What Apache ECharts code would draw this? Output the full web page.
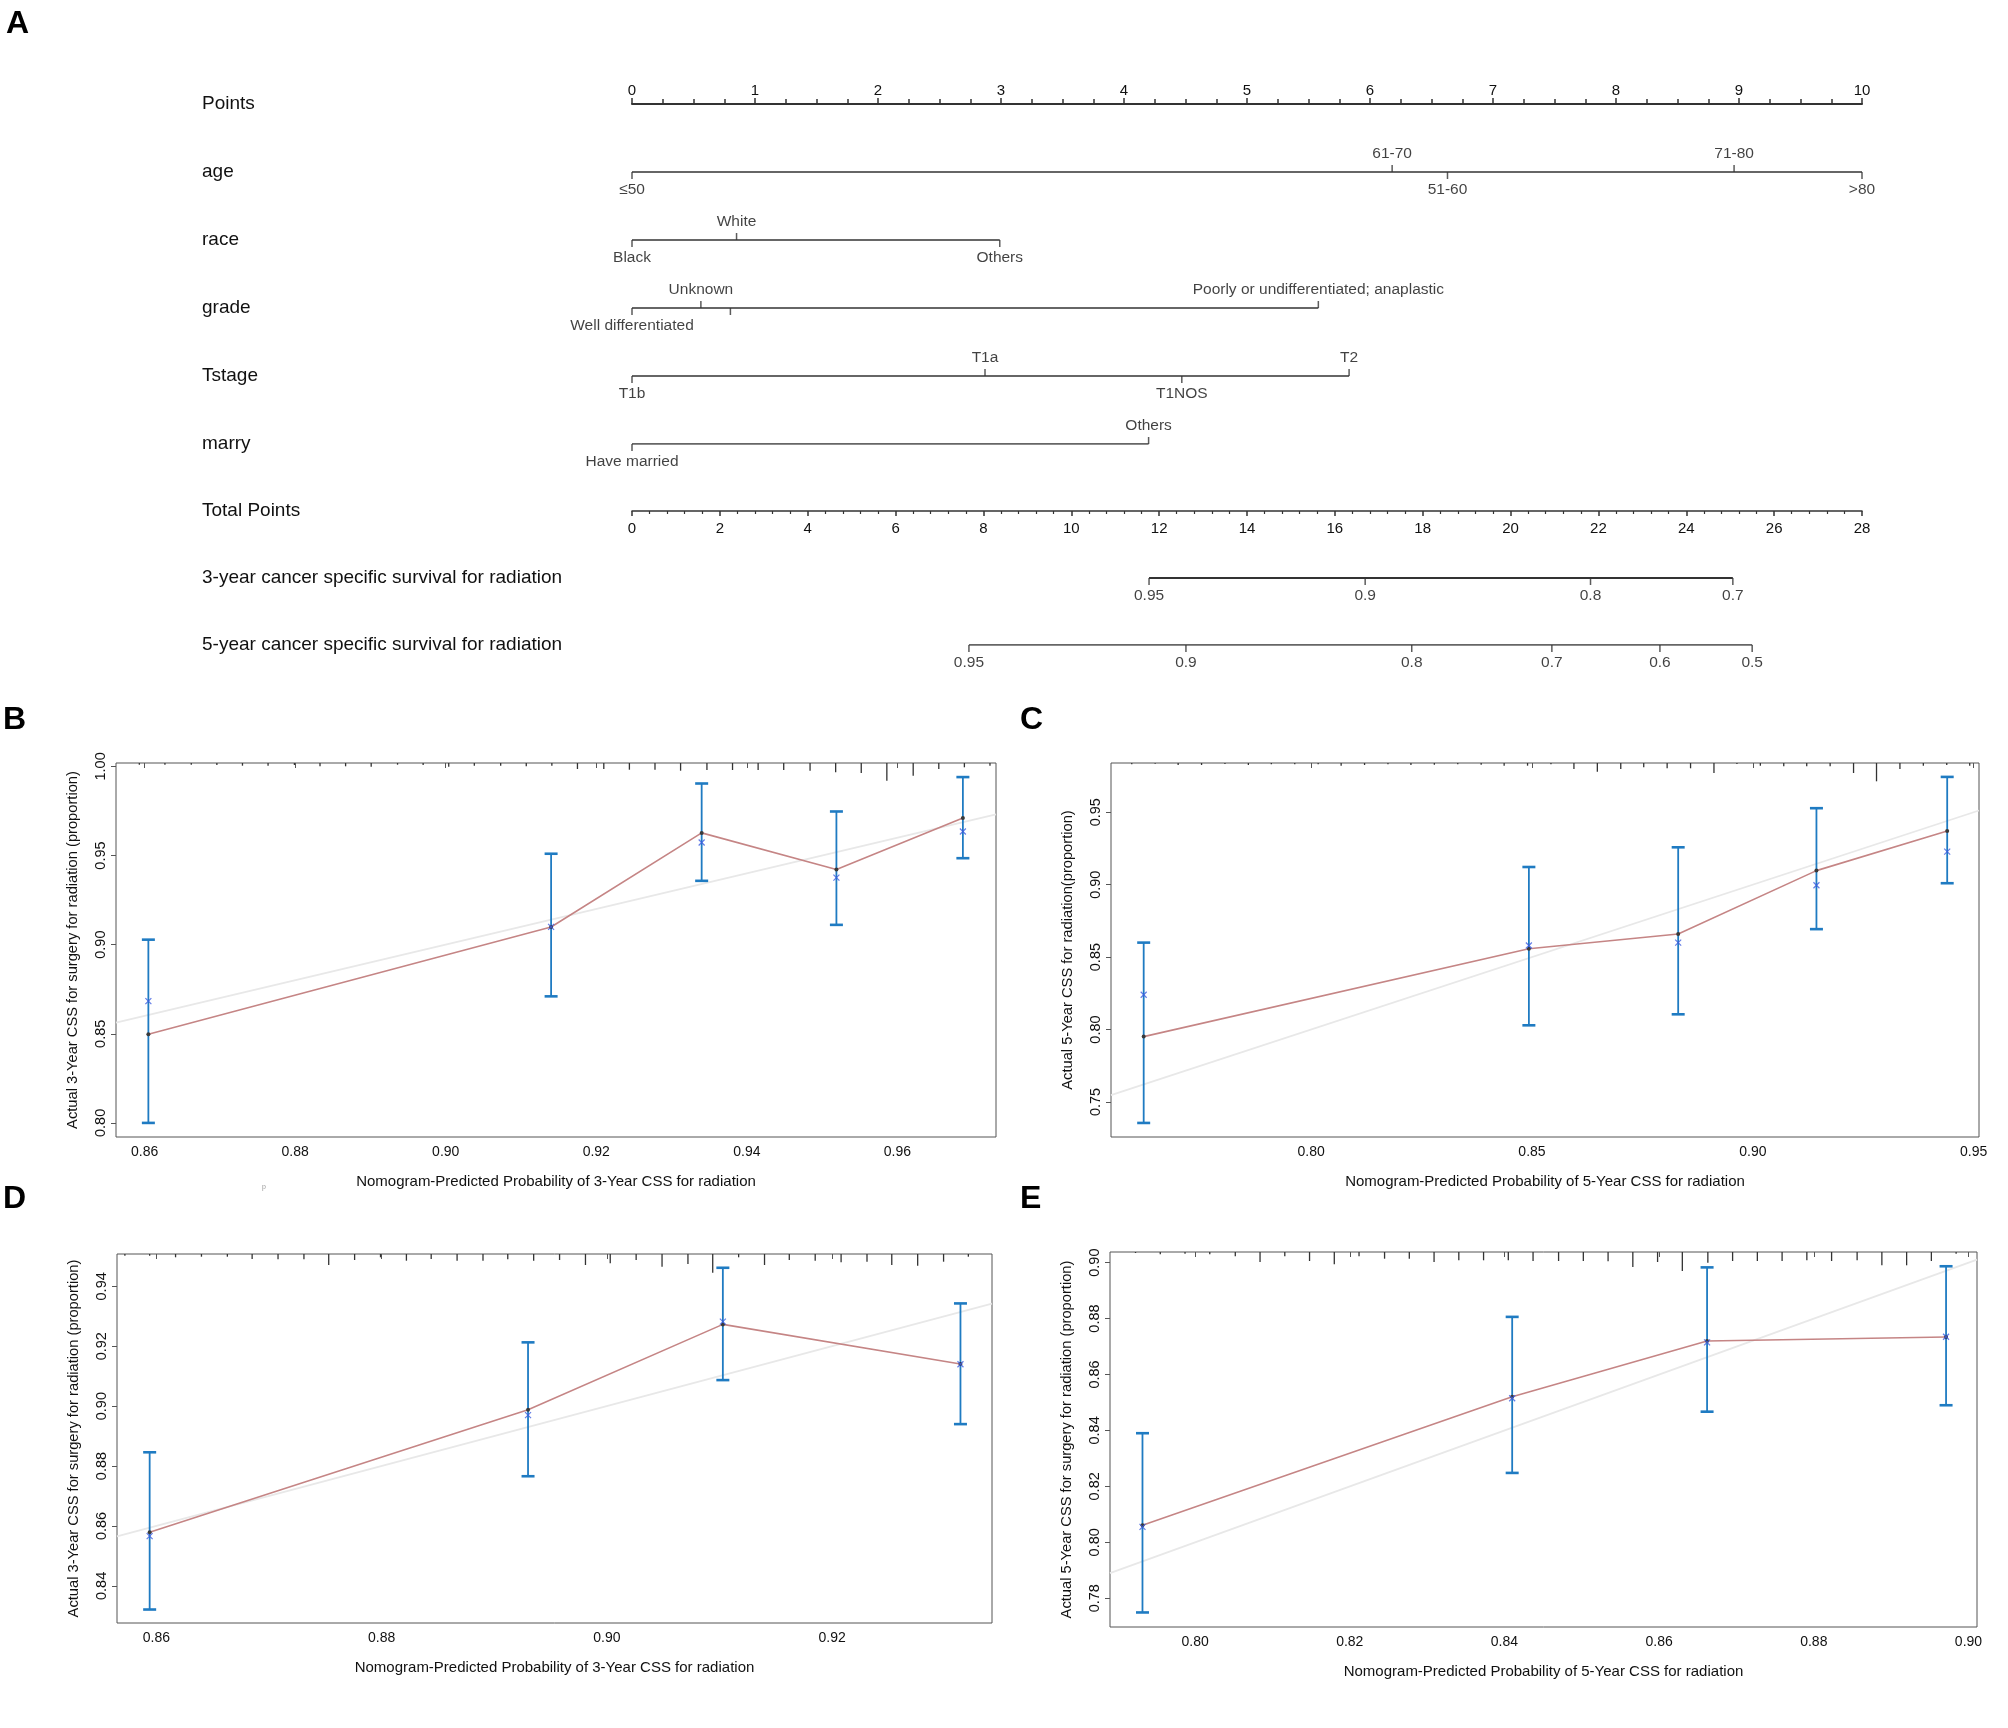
<!DOCTYPE html>
<html>
<head>
<meta charset="utf-8">
<title>Nomogram and calibration curves</title>
<script src="https://cdn.jsdelivr.net/npm/echarts@6/dist/echarts.min.js"></script>
<style>
  html, body { margin: 0; padding: 0; background: #fff; }
  #chart { width: 2008px; height: 1728px; }
</style>
</head>
<body>
<div id="chart"></div>
<script>
// ---------- nomogram (panel A) ----------
var topRows = ['Points', 'age', 'race', 'grade', 'Tstage', 'marry'];
var bottomRows = ['Total Points',
  '3-year cancer specific survival for radiation',
  '5-year cancer specific survival for radiation'];

var ageLevels = ['≤50', '61-70', '51-60', '71-80', '>80'];
var agePoints = [0, 6.18, 6.63, 8.96, 10];
var raceLevels = ['Black', 'White', 'Others'];
var racePoints = [0, 0.85, 2.99];
// third grade tick carries no label in the original figure
var gradeLevels = ['Well differentiated', 'Unknown', '', 'Poorly or undifferentiated; anaplastic'];
var gradePoints = [0, 0.56, 0.80, 5.58];
var tstageLevels = ['T1b', 'T1a', 'T1NOS', 'T2'];
var tstagePoints = [0, 2.87, 4.47, 5.83];
var marryLevels = ['Have married', 'Others'];
var marryPoints = [0, 4.20];

var css3Labels = ['0.95', '0.9', '0.8', '0.7'];
var css3Total = [11.77, 16.69, 21.82, 25.06];
var css5Labels = ['0.95', '0.9', '0.8', '0.7', '0.6', '0.5'];
var css5Total = [7.67, 12.61, 17.75, 20.94, 23.40, 25.50];

// ---------- calibration panels ----------
// B: 3-year, training
var bPred = [0.8605, 0.9140, 0.9340, 0.9519, 0.9687];
var bObs  = [0.8497, 0.9099, 0.9627, 0.9421, 0.9710];
var bCorr = [0.8683, 0.9100, 0.9573, 0.9376, 0.9635];
var bLow  = [0.8000, 0.8710, 0.9358, 0.9111, 0.9485];
var bHigh = [0.9028, 0.9510, 0.9904, 0.9747, 0.9940];
var bRugX = [0.8593, 0.8627, 0.8662, 0.8696, 0.8730, 0.8764, 0.8799, 0.8833, 0.8867, 0.8901,
  0.8936, 0.8970, 0.9004, 0.9038, 0.9073, 0.9107, 0.9141, 0.9175, 0.9210, 0.9244,
  0.9278, 0.9312, 0.9347, 0.9381, 0.9415, 0.9449, 0.9484, 0.9518, 0.9552, 0.9586,
  0.9621, 0.9655, 0.9689, 0.9723];
var bRugN = [1.7, 1.7, 1.7, 2, 2.7, 2.7, 2, 3.3, 3.3, 3.7, 1.7, 2, 3.7, 2.7, 2.7, 3.3, 2.7,
  6, 6, 6.7, 6.7, 7.7, 7, 7, 7, 7, 7.7, 9.3, 10, 17.7, 12.7, 6, 4.3, 2.7];
var bXTicks = [0.86, 0.88, 0.90, 0.92, 0.94, 0.96];
var bYTicks = [0.80, 0.85, 0.90, 0.95, 1.00];
var bXRange = [0.8562, 0.9731];
var bYRange = [0.7921, 1.0019];

// C: 5-year, training
var cPred = [0.7621, 0.8493, 0.8831, 0.9144, 0.9440];
var cObs  = [0.7951, 0.8558, 0.8660, 0.9097, 0.9371];
var cCorr = [0.8240, 0.8580, 0.8600, 0.8996, 0.9228];
var cLow  = [0.7355, 0.8029, 0.8105, 0.8693, 0.9010];
var cHigh = [0.8600, 0.9122, 0.9258, 0.9528, 0.9744];
var cRugX = [0.7594, 0.7647, 0.7699, 0.7752, 0.7805, 0.7858, 0.7910, 0.7963, 0.8016, 0.8068,
  0.8121, 0.8174, 0.8226, 0.8279, 0.8332, 0.8385, 0.8437, 0.8490, 0.8543, 0.8595,
  0.8648, 0.8701, 0.8753, 0.8806, 0.8859, 0.8912, 0.8964, 0.9017, 0.9070, 0.9122,
  0.9175, 0.9228, 0.9280, 0.9333, 0.9386, 0.9439, 0.9491];
var cRugN = [1.3, 0.7, 2, 2, 1, 2, 1.3, 1.3, 1.3, 2.7, 2, 1.3, 2, 1.7, 1.3, 1.7, 2.7, 2.7, 1.3,
  6, 8.7, 6, 4.3, 5.3, 5.3, 10, 1, 2.7, 3.3, 3.3, 3.3, 10, 18.3, 6, 2.7, 2, 2.7];
var cXTicks = [0.80, 0.85, 0.90, 0.95];
var cYTicks = [0.75, 0.80, 0.85, 0.90, 0.95];
var cXRange = [0.7547, 0.9512];
var cYRange = [0.7258, 0.9840];

// D: 3-year, validation
var dPred = [0.8594, 0.8930, 0.9103, 0.9314];
var dObs  = [0.8579, 0.8988, 0.9273, 0.9141];
var dCorr = [0.8566, 0.8970, 0.9282, 0.9140];
var dLow  = [0.8321, 0.8766, 0.9087, 0.8940];
var dHigh = [0.8846, 0.9213, 0.9462, 0.9343];
var dRugX = [0.8572, 0.8594, 0.8617, 0.8640, 0.8663, 0.8685, 0.8708, 0.8731, 0.8753, 0.8776,
  0.8799, 0.8822, 0.8844, 0.8867, 0.8890, 0.8912, 0.8935, 0.8958, 0.8981, 0.9003,
  0.9026, 0.9049, 0.9072, 0.9094, 0.9117, 0.9140, 0.9162, 0.9185, 0.9208, 0.9231,
  0.9253, 0.9276, 0.9299, 0.9321];
var dRugN = [1.7, 1.7, 3.3, 2.7, 2.7, 5, 5.3, 5.3, 11, 6, 3.3, 6.7, 5, 6.7, 6.7, 5.3, 6.7, 6,
  11, 9.3, 6, 12.7, 10, 18.7, 3.3, 11, 6, 6.7, 8.3, 7.7, 11, 11.7, 7.7, 2.7];
var dXTicks = [0.86, 0.88, 0.90, 0.92];
var dYTicks = [0.84, 0.86, 0.88, 0.90, 0.92, 0.94];
var dXRange = [0.8565, 0.9342];
var dYRange = [0.8276, 0.9508];

// E: 5-year, validation
var ePred = [0.7932, 0.8410, 0.8662, 0.8971];
var eObs  = [0.8061, 0.8520, 0.8720, 0.8734];
var eCorr = [0.8055, 0.8515, 0.8715, 0.8735];
var eLow  = [0.7749, 0.8248, 0.8467, 0.8490];
var eHigh = [0.8390, 0.8806, 0.8983, 0.8987];
var eRugX = [0.7923, 0.7955, 0.7987, 0.8019, 0.8052, 0.8084, 0.8116, 0.8148, 0.8180, 0.8212,
  0.8245, 0.8277, 0.8309, 0.8341, 0.8373, 0.8405, 0.8437, 0.8470, 0.8502, 0.8534,
  0.8566, 0.8598, 0.8630, 0.8663, 0.8695, 0.8727, 0.8759, 0.8791, 0.8823, 0.8856,
  0.8888, 0.8920, 0.8952, 0.8984];
var eRugN = [1, 2.3, 1.7, 2.3, 4.3, 10, 4.3, 9, 12.3, 4.3, 6.7, 6.7, 10, 8.3, 8.3, 8.3, 9, 9, 9,
  9.3, 15, 10, 19, 10.7, 9, 9, 9, 8.3, 9, 8.3, 13.3, 13.3, 9, 1.7];
var eXTicks = [0.80, 0.82, 0.84, 0.86, 0.88, 0.90];
var eYTicks = [0.78, 0.80, 0.82, 0.84, 0.86, 0.88, 0.90];
var eXRange = [0.7890, 0.9011];
var eYRange = [0.7697, 0.9038];

var FONT = 'Liberation Sans, Arial, sans-serif';
var INK = '#111';
var AXIS = '#333';

var grids = [], xAxes = [], yAxes = [], series = [];

// nomogram grids: upper block (Points..marry), lower block (Total Points, survival)
grids.push({ left: 632, top: 104, width: 1230, height: 340, outerBoundsMode: 'none' });
grids.push({ left: 632, top: 511, width: 1230, height: 134, outerBoundsMode: 'none' });

xAxes.push({
  type: 'value', gridIndex: 0, position: 'top', min: 0, max: 10, interval: 1,
  axisLine: { show: true, lineStyle: { color: AXIS, width: 2 } },
  axisTick: { show: true, length: 6, lineStyle: { color: AXIS, width: 1.5 } },
  minorTick: { show: true, splitNumber: 4, length: 5, lineStyle: { color: AXIS, width: 1.5 } },
  axisLabel: { fontSize: 15, color: INK, fontFamily: FONT, margin: 6 },
  splitLine: { show: false }
});
xAxes.push({
  type: 'value', gridIndex: 1, position: 'top', min: 0, max: 28, interval: 2,
  axisLine: { show: true, lineStyle: { color: AXIS, width: 1.5 } },
  axisTick: { show: true, inside: true, length: 5, lineStyle: { color: AXIS, width: 1.5 } },
  minorTick: { show: true, splitNumber: 5, length: 3, lineStyle: { color: AXIS, width: 1.2 } },
  axisLabel: { inside: true, margin: 10, fontSize: 15, color: INK, fontFamily: FONT },
  splitLine: { show: false }
});

function rowNameAxis(gridIndex, names) {
  return {
    type: 'category', gridIndex: gridIndex, data: names, inverse: true, boundaryGap: false,
    axisLine: { show: false }, axisTick: { show: false }, splitLine: { show: false },
    axisLabel: { interval: 0, margin: 430, align: 'left', fontSize: 19, color: INK, fontFamily: FONT }
  };
}
yAxes.push(rowNameAxis(0, topRows));
yAxes.push(rowNameAxis(1, bottomRows));

var tickLabel = { show: true, formatter: '{b}', fontSize: 15.5, color: INK, fontFamily: FONT, distance: 3 };

// one variable row: a line spanning its points plus alternating ticks/labels (R nomogram style)
function variableRow(rowName, levels, pts) {
  var order = pts.map(function (p, i) { return i; }).sort(function (a, b) { return pts[a] - pts[b]; });
  var up = [], down = [];
  order.forEach(function (i, k) {
    var item = { name: levels[i], value: [pts[i], rowName] };
    if (k % 2) up.push(item); else down.push(item);
  });
  series.push({
    type: 'line', xAxisIndex: 0, yAxisIndex: 0, symbol: 'none', silent: true,
    data: [[Math.min.apply(null, pts), rowName], [Math.max.apply(null, pts), rowName]],
    lineStyle: { color: '#333', width: 1.3 }
  });
  series.push({
    type: 'scatter', xAxisIndex: 0, yAxisIndex: 0, data: up, symbol: 'rect',
    symbolSize: [1.5, 7], symbolOffset: [0, -3.5], itemStyle: { color: '#333' },
    label: Object.assign({ position: 'top' }, tickLabel)
  });
  series.push({
    type: 'scatter', xAxisIndex: 0, yAxisIndex: 0, data: down, symbol: 'rect',
    symbolSize: [1.5, 7], symbolOffset: [0, 3.5], itemStyle: { color: '#333' },
    label: Object.assign({ position: 'bottom' }, tickLabel)
  });
}
variableRow('age', ageLevels, agePoints);
variableRow('race', raceLevels, racePoints);
variableRow('grade', gradeLevels, gradePoints);
variableRow('Tstage', tstageLevels, tstagePoints);
variableRow('marry', marryLevels, marryPoints);

function survivalRow(rowName, labels, totals, width) {
  series.push({
    type: 'line', xAxisIndex: 1, yAxisIndex: 1, symbol: 'none', silent: true,
    data: [[totals[0], rowName], [totals[totals.length - 1], rowName]],
    lineStyle: { color: '#333', width: width }
  });
  series.push({
    type: 'scatter', xAxisIndex: 1, yAxisIndex: 1, symbol: 'rect',
    symbolSize: [1.5, 7], symbolOffset: [0, 3.5], itemStyle: { color: '#333' },
    data: totals.map(function (t, i) { return { name: labels[i], value: [t, rowName] }; }),
    label: Object.assign({ position: 'bottom' }, tickLabel)
  });
}
survivalRow(bottomRows[1], css3Labels, css3Total, 2.2);
survivalRow(bottomRows[2], css5Labels, css5Total, 1.5);

// ---------- calibration panel builder ----------
function errorBarItem(params, api) {
  var x = api.value(0);
  var lo = api.coord([x, api.value(1)]);
  var hi = api.coord([x, api.value(2)]);
  var half = 6.5;
  var bar = { stroke: '#1f7bc2', lineWidth: 1.8 };
  var cap = { stroke: '#1f7bc2', lineWidth: 2.6 };
  return {
    type: 'group', children: [
      { type: 'line', shape: { x1: lo[0], y1: lo[1], x2: hi[0], y2: hi[1] }, style: bar },
      { type: 'line', shape: { x1: lo[0] - half, y1: lo[1], x2: lo[0] + half, y2: lo[1] }, style: cap },
      { type: 'line', shape: { x1: hi[0] - half, y1: hi[1], x2: hi[0] + half, y2: hi[1] }, style: cap }
    ]
  };
}

function fmt2(v) { return v.toFixed(2); }

function calibrationPanel(box, p) {
  var g = grids.length;
  grids.push({
    left: box[0], top: box[1], width: box[2], height: box[3], show: true,
    borderColor: '#555', borderWidth: 1, backgroundColor: 'transparent', outerBoundsMode: 'none'
  });
  var xi = xAxes.length;
  xAxes.push({
    type: 'value', gridIndex: g, position: 'bottom', min: p.xRange[0], max: p.xRange[1],
    axisLine: { show: false },
    axisTick: { show: true, length: 5, customValues: p.xTicks, lineStyle: { color: '#555' } },
    axisLabel: { customValues: p.xTicks, formatter: fmt2, fontSize: 14, color: INK, fontFamily: FONT, margin: 8 },
    splitLine: { show: false },
    name: p.xName, nameLocation: 'middle', nameGap: 37,
    nameTextStyle: { fontSize: 15, color: INK, fontFamily: FONT }
  });
  var yi = yAxes.length;
  yAxes.push({
    type: 'value', gridIndex: g, position: 'left', min: p.yRange[0], max: p.yRange[1],
    axisLine: { show: false },
    axisTick: { show: true, length: 5, customValues: p.yTicks, lineStyle: { color: '#555' } },
    axisLabel: { customValues: p.yTicks, formatter: fmt2, rotate: 90, fontSize: 14.5, color: INK, fontFamily: FONT, margin: 8 },
    splitLine: { show: false },
    name: p.yName, nameLocation: 'middle', nameGap: 36,
    nameTextStyle: { fontSize: 14.7, color: INK, fontFamily: FONT }
  });
  // hidden axis for the rug of predicted values hanging from the top edge
  var ri = yAxes.length;
  yAxes.push({ type: 'value', gridIndex: g, inverse: true, min: 0, max: box[3], show: false });

  series.push({
    type: 'line', xAxisIndex: xi, yAxisIndex: yi, symbol: 'none', silent: true, clip: true, z: 1,
    data: [[p.xRange[0], p.xRange[0]], [p.xRange[1], p.xRange[1]]],
    lineStyle: { color: '#e8e8e8', width: 1.8 }
  });
  series.push({
    type: 'bar', xAxisIndex: xi, yAxisIndex: ri, barWidth: 1.3, silent: true, z: 2,
    data: p.rugX.map(function (x, i) { return [x, p.rugN[i]]; }),
    itemStyle: { color: '#333' }
  });
  series.push({
    type: 'custom', xAxisIndex: xi, yAxisIndex: yi, renderItem: errorBarItem, z: 3,
    encode: { x: 0, y: [1, 2] },
    data: p.pred.map(function (x, i) { return [x, p.low[i], p.high[i]]; })
  });
  series.push({
    type: 'line', xAxisIndex: xi, yAxisIndex: yi, z: 4,
    data: p.pred.map(function (x, i) { return [x, p.obs[i]]; }),
    symbol: 'circle', symbolSize: 4, itemStyle: { color: '#3a3a3a' },
    lineStyle: { color: '#c58585', width: 1.6 }
  });
  series.push({
    type: 'scatter', xAxisIndex: xi, yAxisIndex: yi, z: 5,
    data: p.pred.map(function (x, i) { return [x, p.corr[i]]; }),
    symbol: 'path://M0,0L10,10M10,0L0,10', symbolSize: 6,
    itemStyle: { color: 'none', borderColor: '#3d5ce0', borderWidth: 1.2 }
  });
}

calibrationPanel([116, 763, 880, 374], {
  pred: bPred, obs: bObs, corr: bCorr, low: bLow, high: bHigh, rugX: bRugX, rugN: bRugN,
  xTicks: bXTicks, yTicks: bYTicks, xRange: bXRange, yRange: bYRange,
  xName: 'Nomogram-Predicted Probability of 3-Year CSS for radiation',
  yName: 'Actual 3-Year CSS for surgery for radiation (proportion)'
});
calibrationPanel([1111, 763, 868, 374], {
  pred: cPred, obs: cObs, corr: cCorr, low: cLow, high: cHigh, rugX: cRugX, rugN: cRugN,
  xTicks: cXTicks, yTicks: cYTicks, xRange: cXRange, yRange: cYRange,
  xName: 'Nomogram-Predicted Probability of 5-Year CSS for radiation',
  yName: 'Actual 5-Year CSS for radiation(proportion)'
});
calibrationPanel([117, 1254, 875, 369], {
  pred: dPred, obs: dObs, corr: dCorr, low: dLow, high: dHigh, rugX: dRugX, rugN: dRugN,
  xTicks: dXTicks, yTicks: dYTicks, xRange: dXRange, yRange: dYRange,
  xName: 'Nomogram-Predicted Probability of 3-Year CSS for radiation',
  yName: 'Actual 3-Year CSS for surgery for radiation (proportion)'
});
calibrationPanel([1110, 1252, 867, 375], {
  pred: ePred, obs: eObs, corr: eCorr, low: eLow, high: eHigh, rugX: eRugX, rugN: eRugN,
  xTicks: eXTicks, yTicks: eYTicks, xRange: eXRange, yRange: eYRange,
  xName: 'Nomogram-Predicted Probability of 5-Year CSS for radiation',
  yName: 'Actual 5-Year CSS for surgery for radiation (proportion)'
});

function panelLetter(text, left, top) {
  return { type: 'text', left: left, top: top, silent: true,
    style: { text: text, font: 'bold 32px Liberation Sans, Arial, sans-serif', fill: '#000' } };
}

var chart = echarts.init(document.getElementById('chart'), null, { renderer: 'canvas' });
chart.setOption({
  backgroundColor: '#fff',
  animation: false,
  textStyle: { fontFamily: FONT },
  grid: grids,
  xAxis: xAxes,
  yAxis: yAxes,
  series: series,
  graphic: [
    panelLetter('A', 6, 8),
    panelLetter('B', 3, 704),
    panelLetter('C', 1020, 704),
    panelLetter('D', 3, 1183),
    panelLetter('E', 1020, 1183),
    { type: 'text', left: 262, top: 1184, silent: true,
      style: { text: 'p', font: '7px Liberation Sans, Arial, sans-serif', fill: '#999' } }
  ]
});
</script>
</body>
</html>
